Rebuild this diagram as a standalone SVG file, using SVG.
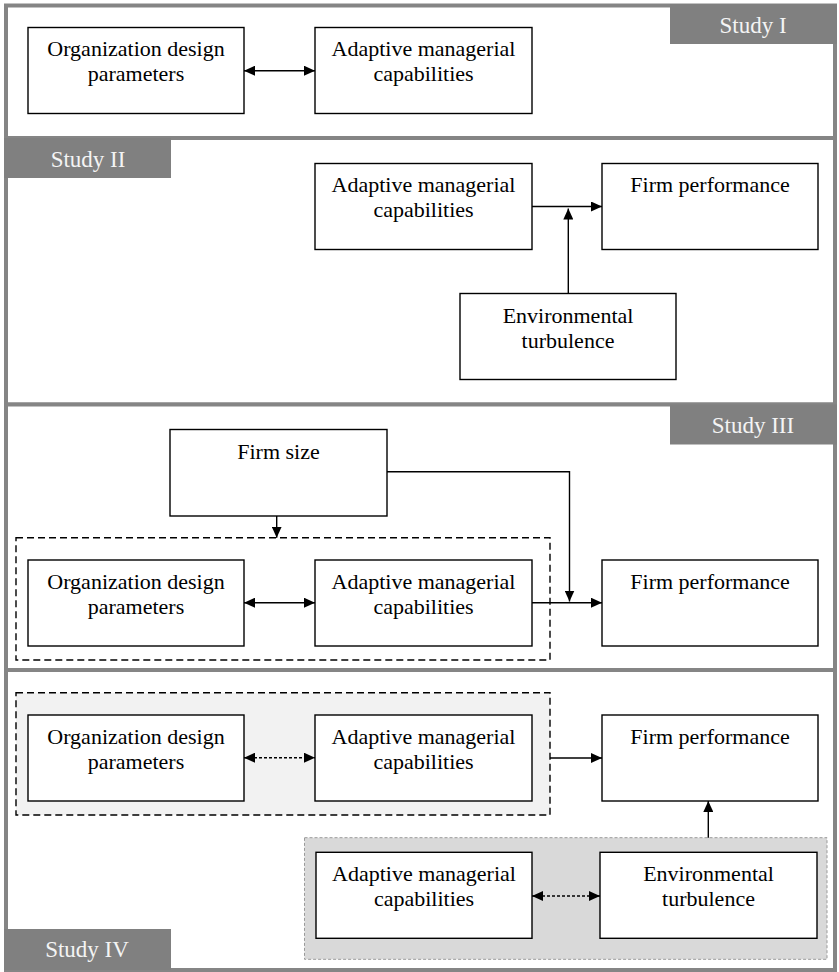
<svg xmlns="http://www.w3.org/2000/svg" width="839" height="972" viewBox="0 0 839 972">
  <style>
    .panel { fill: #ffffff; stroke: #858585; stroke-width: 4; }
    .tab { fill: #808080; }
    .tabtxt { font-family: 'Liberation Serif', 'DejaVu Serif', serif; font-size: 23px; fill: #f4f4f4; text-anchor: middle; }
    .box { fill: #ffffff; stroke: #000000; stroke-width: 1.4; }
    .txt { font-family: 'Liberation Serif', 'DejaVu Serif', serif; font-size: 22px; fill: #000000; text-anchor: middle; }
    .link { fill: none; stroke: #000000; stroke-width: 1.4; }
    .dotted { stroke-dasharray: 3 2; }
    .group { fill: none; stroke: #000000; stroke-width: 1.4; stroke-dasharray: 7 4; }
    .groupfill { fill: #f2f2f2; }
    .shade { fill: #d9d9d9; stroke: #9a9a9a; stroke-width: 1; stroke-dasharray: 3 2; }
  </style>
  <defs>
    <marker id="arrow" viewBox="0 0 11 10" refX="11" refY="5" markerWidth="11" markerHeight="10" markerUnits="userSpaceOnUse" orient="auto-start-reverse">
      <path d="M0,0 L11,5 L0,10 z" fill="#000000"/>
    </marker>
  </defs>

  <rect width="839" height="972" fill="#ffffff"/>

  <!-- panel frames -->
  <g id="panels">
    <rect class="panel" x="6" y="5.5" width="829" height="132.5"/>
    <rect class="panel" x="6" y="138" width="829" height="266.5"/>
    <rect class="panel" x="6" y="404.5" width="829" height="265.5"/>
    <rect class="panel" x="6" y="670" width="829" height="300"/>
  </g>

  <!-- panel tabs -->
  <g id="tabs" font-family="Liberation Serif, serif">
    <rect class="tab" x="670" y="4" width="167" height="40"/>
    <text class="tabtxt" x="753" y="33">Study I</text>
    <rect class="tab" x="4" y="138" width="167" height="40"/>
    <text class="tabtxt" x="88" y="167">Study II</text>
    <rect class="tab" x="670" y="404.5" width="167" height="40"/>
    <text class="tabtxt" x="753" y="433">Study III</text>
    <rect class="tab" x="4" y="929" width="167" height="41"/>
    <text class="tabtxt" x="87" y="957">Study IV</text>
  </g>

  <!-- grouping frames -->
  <g id="frames">
    <rect class="group" x="16" y="537.7" width="534" height="122.3"/>
    <rect class="groupfill" x="16" y="692.7" width="534" height="122.3"/>
    <rect class="group" x="16" y="692.7" width="534" height="122.3"/>
    <rect class="shade" x="304.5" y="837.7" width="522.5" height="121.6"/>
  </g>

  <!-- Study I -->
  <g id="s1-org">
    <rect class="box" x="28" y="27.5" width="216" height="86"/>
    <text class="txt" x="136" y="56">Organization design</text>
    <text class="txt" x="136" y="81">parameters</text>
  </g>
  <g id="s1-amc">
    <rect class="box" x="315" y="27.5" width="217" height="86"/>
    <text class="txt" x="423.5" y="56">Adaptive managerial</text>
    <text class="txt" x="423.5" y="81">capabilities</text>
  </g>

  <!-- Study II -->
  <g id="s2-amc">
    <rect class="box" x="315" y="163.5" width="217" height="86"/>
    <text class="txt" x="423.5" y="192">Adaptive managerial</text>
    <text class="txt" x="423.5" y="217">capabilities</text>
  </g>
  <g id="s2-perf">
    <rect class="box" x="602" y="163.5" width="216" height="86"/>
    <text class="txt" x="710" y="192">Firm performance</text>
  </g>
  <g id="s2-env">
    <rect class="box" x="460" y="293.5" width="216" height="86"/>
    <text class="txt" x="568" y="322.5">Environmental</text>
    <text class="txt" x="568" y="347.5">turbulence</text>
  </g>

  <!-- Study III -->
  <g id="s3-size">
    <rect class="box" x="170" y="429.5" width="217" height="86.5"/>
    <text class="txt" x="278.5" y="458.5">Firm size</text>
  </g>
  <g id="s3-org">
    <rect class="box" x="28" y="560" width="216" height="86"/>
    <text class="txt" x="136" y="588.5">Organization design</text>
    <text class="txt" x="136" y="613.5">parameters</text>
  </g>
  <g id="s3-amc">
    <rect class="box" x="315" y="560" width="217" height="86"/>
    <text class="txt" x="423.5" y="588.5">Adaptive managerial</text>
    <text class="txt" x="423.5" y="613.5">capabilities</text>
  </g>
  <g id="s3-perf">
    <rect class="box" x="602" y="560" width="216" height="86"/>
    <text class="txt" x="710" y="588.5">Firm performance</text>
  </g>

  <!-- Study IV -->
  <g id="s4-org">
    <rect class="box" x="28" y="715" width="216" height="86"/>
    <text class="txt" x="136" y="743.5">Organization design</text>
    <text class="txt" x="136" y="768.5">parameters</text>
  </g>
  <g id="s4-amc">
    <rect class="box" x="315" y="715" width="217" height="86"/>
    <text class="txt" x="423.5" y="743.5">Adaptive managerial</text>
    <text class="txt" x="423.5" y="768.5">capabilities</text>
  </g>
  <g id="s4-perf">
    <rect class="box" x="602" y="715" width="216" height="86"/>
    <text class="txt" x="710" y="743.5">Firm performance</text>
  </g>
  <g id="s4-amc2">
    <rect class="box" x="316" y="852.3" width="216" height="86"/>
    <text class="txt" x="424" y="881">Adaptive managerial</text>
    <text class="txt" x="424" y="906">capabilities</text>
  </g>
  <g id="s4-env">
    <rect class="box" x="600" y="852.3" width="217" height="86"/>
    <text class="txt" x="708.5" y="881">Environmental</text>
    <text class="txt" x="708.5" y="906">turbulence</text>
  </g>

  <!-- connectors -->
  <g id="connectors">
    <line class="link" x1="244" y1="70.7" x2="315" y2="70.7" marker-start="url(#arrow)" marker-end="url(#arrow)"/>

    <line class="link" x1="532" y1="206.5" x2="602" y2="206.5" marker-end="url(#arrow)"/>
    <line class="link" x1="568.3" y1="293.5" x2="568.3" y2="208.5" marker-end="url(#arrow)"/>

    <line class="link" x1="276.7" y1="516" x2="276.7" y2="537.7" marker-end="url(#arrow)"/>
    <polyline class="link" points="387,471.7 569.5,471.7 569.5,601.5" marker-end="url(#arrow)"/>
    <line class="link" x1="244" y1="602.7" x2="315" y2="602.7" marker-start="url(#arrow)" marker-end="url(#arrow)"/>
    <line class="link" x1="532" y1="602.7" x2="602" y2="602.7" marker-end="url(#arrow)"/>

    <line class="link dotted" x1="244" y1="757.7" x2="315" y2="757.7" marker-start="url(#arrow)" marker-end="url(#arrow)"/>
    <line class="link" x1="550" y1="758" x2="602" y2="758" marker-end="url(#arrow)"/>
    <line class="link dotted" x1="532" y1="896" x2="600" y2="896" marker-start="url(#arrow)" marker-end="url(#arrow)"/>
    <line class="link" x1="708.3" y1="837.7" x2="708.3" y2="801" marker-end="url(#arrow)"/>
  </g>
</svg>
